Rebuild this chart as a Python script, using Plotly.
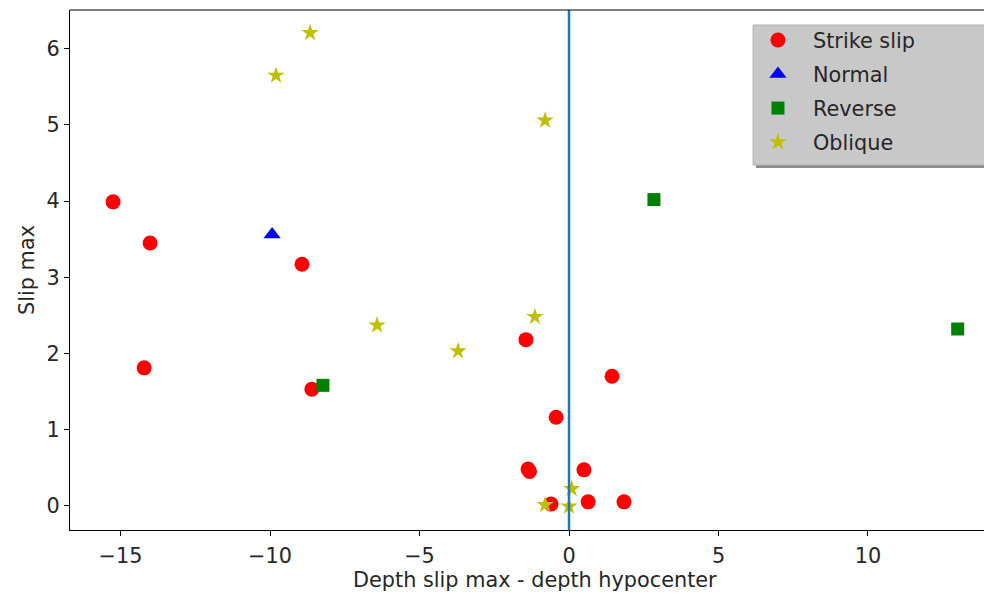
import plotly.graph_objects as go

strike_x = [-15.25, -14.01, -14.21, -8.93, -8.60, -1.44, -0.43, -1.37, -1.32, -0.60, 0.50, 0.64, 1.84, 1.44]
strike_y = [3.99, 3.45, 1.81, 3.17, 1.53, 2.18, 1.16, 0.48, 0.45, 0.02, 0.47, 0.05, 0.05, 1.70]

normal_x = [-9.93]
normal_y = [3.56]

reverse_x = [-8.23, 2.84, 13.0]
reverse_y = [1.58, 4.02, 2.32]

oblique_x = [-8.66, -9.80, -0.80, -6.42, -3.71, -1.14, -0.80, 0.09, 0.0]
oblique_y = [6.21, 5.65, 5.06, 2.37, 2.03, 2.48, 0.01, 0.22, -0.01]

vline_x = 0.0

x_range = [-16.69, 13.88]
y_range = [-0.32, 6.51]

x_title = "Depth slip max - depth hypocenter"
y_title = "Slip max"

FS = 20.8
TXT = "#262626"

fig = go.Figure()
fig.add_trace(go.Scatter(x=strike_x, y=strike_y, mode="markers", name="Strike slip", legendgroup="a",
                         marker=dict(symbol="circle", color="red", size=15, line=dict(width=0))))
fig.add_trace(go.Scatter(x=normal_x, y=normal_y, mode="markers", name="Normal", legendgroup="b",
                         marker=dict(symbol="triangle-up", color="blue", size=15, line=dict(width=0))))
fig.add_trace(go.Scatter(x=reverse_x, y=reverse_y, mode="markers", name="Reverse", legendgroup="c",
                         marker=dict(symbol="square", color="green", size=13, line=dict(width=0))))
fig.add_trace(go.Scatter(x=oblique_x, y=oblique_y, mode="markers", name="Oblique", legendgroup="d",
                         marker=dict(symbol="star", color="#bfbf00", size=13, line=dict(width=0))))

fig.add_shape(type="line", x0=vline_x, x1=vline_x, y0=0, y1=1, xref="x", yref="paper",
              line=dict(color="#1f77b4", width=2.5))
# top spine
fig.add_shape(type="line", x0=0, x1=1.02, y0=1, y1=1, xref="paper", yref="paper",
              line=dict(color="black", width=1.2))
# legend frame shadow and box
fig.add_shape(type="rect", x0=0.7505, x1=1.03, y0=0.6962, y1=0.9654, xref="paper", yref="paper",
              fillcolor="#8c8c8c", line=dict(width=0), layer="above")
fig.add_shape(type="rect", x0=0.7473, x1=1.03, y0=0.7019, y1=0.9712, xref="paper", yref="paper",
              fillcolor="#c8c8c8", line=dict(color="#b4b4b4", width=1), layer="above")

# x-axis title (centred on the full, partly cropped axes width)
fig.add_annotation(text=x_title, x=0.5087, y=-0.0962, xref="paper", yref="paper",
                   xanchor="center", yanchor="middle", showarrow=False,
                   font=dict(size=FS, color=TXT, family="DejaVu Sans"))

fig.update_layout(
    width=976, height=585,
    margin=dict(l=62, r=0, t=2, b=63),
    paper_bgcolor="white", plot_bgcolor="white",
    font=dict(family="DejaVu Sans", size=FS, color=TXT),
    showlegend=True,
    legend=dict(x=0.7363, y=0.9808, xanchor="left", yanchor="top",
                bgcolor="rgba(0,0,0,0)", borderwidth=0,
                traceorder="grouped", tracegroupgap=4,
                font=dict(size=FS, color=TXT), itemwidth=60),
    xaxis=dict(range=x_range, showgrid=False, zeroline=False, showline=True, linecolor="black",
               linewidth=1.2, mirror=False, ticks="outside", ticklen=5, tickcolor="black",
               tickfont=dict(size=FS), ticklabelstandoff=2,
               tickvals=[-15, -10, -5, 0, 5, 10], ticktext=["\u221215", "\u221210", "\u22125", "0", "5", "10"]),
    yaxis=dict(range=y_range, showgrid=False, zeroline=False, showline=True, linecolor="black",
               linewidth=1.2, mirror=False, ticks="outside", ticklen=5, tickcolor="black",
               tickfont=dict(size=FS),
               tickvals=[0, 1, 2, 3, 4, 5, 6],
               title=dict(text=y_title, standoff=6, font=dict(size=FS))),
)

fig.write_html("out.html")
